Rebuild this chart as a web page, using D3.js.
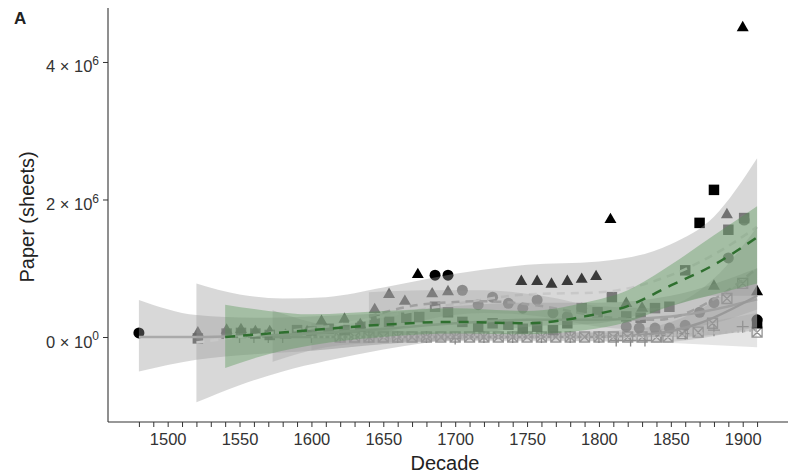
<!DOCTYPE html>
<html>
<head>
<meta charset="utf-8">
<script src="https://cdn.jsdelivr.net/npm/d3@7"></script>
<style>
  body { margin: 0; background: #fff; }
  text { font-family: "Liberation Sans", Arial, sans-serif; fill: #222; }
</style>
</head>
<body>
<svg width="788" height="475"></svg>
<script>
// values in millions of sheets, [decade, value]
var circBlack = [[1480,0.06],[1686,0.9],[1695,0.9],[1910,0.25]];
var triBlack = [[1674,0.93],[1746,0.83],[1757,0.83],[1767,0.79],[1778,0.83],[1788,0.86],[1798,0.9],[1808,1.73],[1900,4.52],[1910,0.68]];
var sqBlack = [[1870,1.66],[1880,2.14],[1910,0.2]];
var triGrey = [[1521,0.08],[1541,0.12],[1551,0.13],[1561,0.1],[1571,0.1],[1582,0.05],[1597,0.1],[1607,0.25],[1623,0.28],[1634,0.2],
               [1644,0.42],[1654,0.64],[1665,0.54],[1684,0.65],[1695,0.68],[1819,0.51],[1830,0.44],[1880,0.76],[1889,1.8]];
var circGrey = [[1705,0.68],[1716,0.47],[1726,0.58],[1737,0.49],[1747,0.42],[1757,0.54],[1768,0.35],[1778,0.3],[1788,0.42],
                [1819,0.15],[1828,0.13],[1839,0.13],[1849,0.13],[1860,0.17],[1870,0.36],[1880,0.5],[1890,1.15],[1901,1.7]];
var sqGrey = [[1521,-0.02],[1541,0.05],[1551,0.06],[1561,0.05],[1571,0.03],[1590,0.1],[1600,0.08],[1612,0.12],[1623,0.1],[1634,0.15],
              [1644,0.25],[1654,0.22],[1666,0.28],[1675,0.29],[1686,0.44],[1695,0.36],[1705,0.22],[1716,0.15],[1726,0.2],[1737,0.18],
              [1747,0.12],[1757,0.15],[1768,0.1],[1778,0.2],[1788,0.42],[1799,0.36],[1809,0.58],[1819,0.3],[1829,0.28],[1839,0.42],
              [1849,0.44],[1860,0.97],[1890,1.56],[1901,1.73]];
var boxX = [[1620,0],[1630,0],[1640,0],[1650,0],[1660,0],[1670,0],[1680,0],[1690,0],[1700,0],[1710,0],[1720,0],[1730,0],[1740,0],
            [1750,0],[1760,0],[1770,0],[1780,0],[1790,0],[1800,0],[1810,0],[1820,0],[1830,0],[1840,0],[1848,0],[1858,0.05],
            [1869,0.07],[1879,0.2],[1889,0.56],[1900,0.78],[1910,0.07]];
var plusGrey = [[1550,0],[1560,0],[1570,0],[1580,0],[1600,0],[1620,0],[1640,0],[1660,0],[1680,0],[1700,-0.02],[1720,0],[1740,0],
                [1760,0],[1780,0],[1800,0],[1812,-0.05],[1822,-0.05],[1832,-0.05],[1843,0.02],[1860,0.05],[1880,0.1],[1900,0.15]];

// smoothed fits: [decade, lower, fit, upper]
var fitCirc = [[1480,-0.5,0,0.54],[1520,-0.33,0,0.32],[1560,-0.25,0.02,0.28],[1600,-0.2,0.05,0.3],[1650,-0.1,0.12,0.35],
               [1700,-0.05,0.2,0.45],[1750,-0.02,0.25,0.5],[1800,0,0.25,0.5],[1850,0,0.3,0.6],[1910,0.1,0.55,1.0]];
var fitTri = [[1520,-0.95,-0.08,0.78],[1550,-0.7,0,0.62],[1580,-0.5,0.08,0.56],[1610,-0.35,0.15,0.58],[1650,-0.18,0.3,0.72],
              [1700,-0.02,0.48,0.92],[1750,0.15,0.62,1.05],[1800,0.2,0.65,1.1],[1850,0.45,0.9,1.35],[1880,0.6,1.2,1.75],[1910,0.6,1.6,2.6]];
var fitSq = [[1540,-0.45,0,0.47],[1570,-0.25,0.05,0.38],[1600,-0.12,0.1,0.33],[1650,0,0.18,0.38],[1700,0.05,0.22,0.42],
             [1750,0.04,0.2,0.38],[1790,0.1,0.3,0.5],[1820,0.22,0.45,0.68],[1850,0.45,0.75,1.05],[1880,0.62,1.05,1.48],[1910,0.78,1.45,1.9]];
var fitBox = [[1573,-0.36,0,0.39],[1610,-0.15,0,0.17],[1650,-0.08,0,0.1],[1700,-0.05,0,0.06],[1750,-0.05,0,0.06],
              [1800,-0.06,0,0.08],[1840,-0.08,0.05,0.16],[1870,-0.02,0.2,0.4],[1910,0.15,0.6,1.0]];
var fitCircGrey = [[1640,-0.05,0.3,0.65],[1680,0.25,0.48,0.68],[1720,0.35,0.52,0.68],[1760,0.3,0.45,0.6],[1800,0.15,0.3,0.45],
                   [1840,0.1,0.25,0.42],[1880,0.2,0.55,0.85],[1910,0.4,1.0,1.6]];
var fitPlus = [[1600,-0.2,0,0.2],[1700,-0.06,0,0.06],[1800,-0.06,0,0.06],[1910,-0.15,0.1,0.35]];

var xTicks = d3.range(1480, 1911, 10);
var xLabels = [1500, 1550, 1600, 1650, 1700, 1750, 1800, 1850, 1900];
var yTicks = [0, 2e6, 4e6];
var yTickLabels = [["0", "0"], ["2", "6"], ["4", "6"]];

var svg = d3.select("svg");
var x = d3.scaleLinear().domain([1458.5, 1931.5]).range([108, 788]);
var y = d3.scaleLinear().domain([-1.236e6, 4.785e6]).range([422, 8]);

var g = svg.append("g");

var shapes = {
  circle: d3.symbol().type(d3.symbolCircle).size(95)(),
  triangle: d3.symbol().type(d3.symbolTriangle).size(62)(),
  square: d3.symbol().type(d3.symbolSquare).size(110)(),
  boxx: "M-5,-5H5V5H-5Z M-5,-5L5,5 M5,-5L-5,5",
  plus: "M-6,0H6 M0,-6V6"
};

function drawPoints(data, shape, color, opacity) {
  var sel = g.append("g").selectAll("path")
    .data(data)
    .enter().append("path")
      .attr("d", shapes[shape])
      .attr("transform", function(d) { return "translate(" + x(d[0]) + "," + (y(d[1] * 1e6) + (shape == "triangle" ? 1.5 : 0)) + ")"; })
      .style("opacity", opacity);
  if (shape == "boxx" || shape == "plus") {
    sel.style("fill", "none").style("stroke", color).style("stroke-width", 1.3);
  } else {
    sel.style("fill", color);
  }
}

drawPoints(plusGrey, "plus", "#6a6a6a", 0.8);
drawPoints(boxX, "boxx", "#808080", 0.85);
drawPoints(sqGrey, "square", "#4a4a4a", 0.85);
drawPoints(circGrey, "circle", "#6e6e6e", 0.85);
drawPoints(triGrey, "triangle", "#484848", 0.9);
drawPoints(circBlack, "circle", "#000", 1);
drawPoints(sqBlack, "square", "#000", 1);
drawPoints(triBlack, "triangle", "#000", 1);

function drawFit(data, fill, fillOpacity, lineColor, dash, lineWidth) {
  var area = d3.area().curve(d3.curveMonotoneX)
    .x(function(d) { return x(d[0]); })
    .y0(function(d) { return y(d[1] * 1e6); })
    .y1(function(d) { return y(d[3] * 1e6); });
  var line = d3.line().curve(d3.curveMonotoneX)
    .x(function(d) { return x(d[0]); })
    .y(function(d) { return y(d[2] * 1e6); });
  g.append("path").datum(data).attr("d", area)
    .style("fill", fill).style("fill-opacity", fillOpacity);
  g.append("path").datum(data).attr("d", line)
    .style("fill", "none").style("stroke", lineColor)
    .style("stroke-width", lineWidth).style("stroke-dasharray", dash);
}

drawFit(fitCirc, "#999", 0.38, "#aaa", null, 2.5);
drawFit(fitTri, "#999", 0.38, "#c8c8c8", "8,6", 2.5);
drawFit(fitBox, "#999", 0.32, "#9a9a9a", null, 2.5);
drawFit(fitPlus, "#999", 0.25, "#b5b5b5", "2,4", 2.5);
drawFit(fitCircGrey, "#999", 0.3, "#a0a0a0", "8,6", 2.5);
drawFit(fitSq, "#4f944f", 0.38, "#2f6f2f", "10,8", 2.5);

// axes
var xAxis = d3.axisBottom(x).tickValues(xTicks).tickSize(5).tickPadding(6)
  .tickFormat(function(d) { return xLabels.indexOf(d) >= 0 ? d : ""; });
var gx = svg.append("g").attr("transform", "translate(0,422)").call(xAxis);
gx.select(".domain").attr("d", "M108,0H788").style("stroke", "#333").style("stroke-width", 1.1);
gx.selectAll(".tick line").style("stroke", "#333");
gx.selectAll("text").style("font-size", "16.5px").style("fill", "#333").attr("font-family", null);

var yAxis = d3.axisLeft(y).tickValues(yTicks).tickSize(5).tickPadding(4).tickFormat("");
var gy = svg.append("g").attr("transform", "translate(108,0)").call(yAxis);
gy.select(".domain").attr("d", "M0,8V422").style("stroke", "#333").style("stroke-width", 1.1);
gy.selectAll(".tick line").style("stroke", "#333");
gy.selectAll(".tick").each(function(d, i) {
  var t = d3.select(this).append("text")
    .attr("x", -9).attr("y", 10)
    .style("text-anchor", "end").style("font-size", "16.5px").style("fill", "#333");
  t.append("tspan").text(yTickLabels[i][0] + " \u00d7 10");
  t.append("tspan").attr("dy", "-0.6em").style("font-size", "12px").text(yTickLabels[i][1]);
});

svg.append("text").attr("x", 445).attr("y", 470)
  .style("text-anchor", "middle").style("font-size", "20px").text("Decade");
svg.append("text").attr("transform", "translate(34,217) rotate(-90)")
  .style("text-anchor", "middle").style("font-size", "20px").text("Paper (sheets)");
svg.append("text").attr("x", 14).attr("y", 24)
  .style("font-size", "17px").style("font-weight", "bold").text("A");
</script>
</body>
</html>
